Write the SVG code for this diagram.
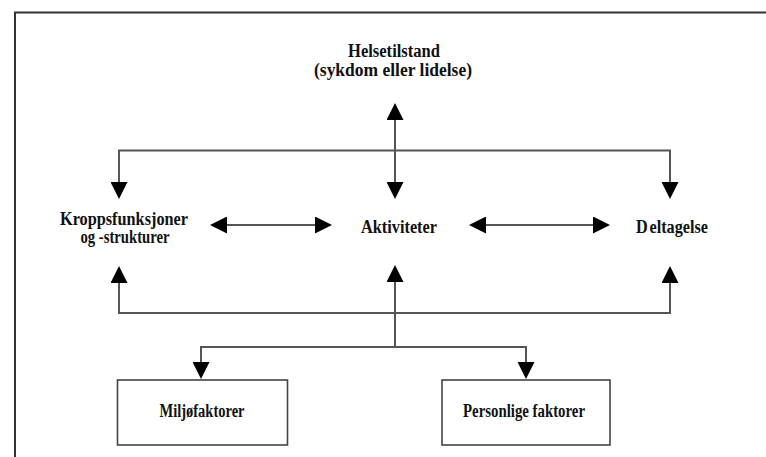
<svg xmlns="http://www.w3.org/2000/svg" width="766" height="457" viewBox="0 0 766 457">
<style>
.t{font-family:'Liberation Serif', Times, serif;font-weight:700;font-size:18px;fill:#111;text-anchor:middle}
.ln{fill:none;stroke:#555;stroke-width:2}
.both{marker-start:url(#ah);marker-end:url(#ah)}
.start{marker-start:url(#ah)}
.box{fill:#fff;stroke:#444;stroke-width:1.6}
.frame{fill:none;stroke:#333;stroke-width:2}
</style>
<defs>
<marker id="ah" viewBox="0 0 17 17" refX="0" refY="8.5" markerWidth="17" markerHeight="17" markerUnits="userSpaceOnUse" orient="auto-start-reverse">
<path d="M0,0 L17,8.5 L0,17 z" fill="#000"/>
</marker>
</defs>
<rect width="766" height="457" fill="#fff"/>
<path class="frame" d="M15,457 V12.5 H766"/>
<g id="connectors">
<path class="ln both" d="M395,120 V182"/>
<path class="ln both" d="M119,182 V150.5 H670 V182"/>
<path class="ln both" d="M119,283 V313 H670 V283"/>
<path class="ln start" d="M395,282 V347"/>
<path class="ln both" d="M201,362 V347 H526 V362"/>
<path class="ln both" d="M227,225 H315"/>
<path class="ln both" d="M486,225 H593"/>
</g>
<g id="helsetilstand">
<text class="t" x="394" y="57" textLength="92" lengthAdjust="spacingAndGlyphs">Helsetilstand</text>
<text class="t" x="393" y="76" textLength="158" lengthAdjust="spacingAndGlyphs">(sykdom eller lidelse)</text>
</g>
<g id="kroppsfunksjoner">
<text class="t" x="124" y="225" textLength="128" lengthAdjust="spacingAndGlyphs">Kroppsfunksjoner</text>
<text class="t" x="125" y="243" textLength="89" lengthAdjust="spacingAndGlyphs">og -strukturer</text>
</g>
<g id="aktiviteter">
<text class="t" x="399" y="233" textLength="76" lengthAdjust="spacingAndGlyphs">Aktiviteter</text>
</g>
<g id="deltagelse">
<text class="t" x="672" y="233" textLength="72" lengthAdjust="spacingAndGlyphs">D<tspan dx="2">eltagelse</tspan></text>
</g>
<g id="miljofaktorer">
<rect class="box" x="117.5" y="380" width="170" height="65"/>
<text class="t" x="202" y="417" textLength="85" lengthAdjust="spacingAndGlyphs">Miljøfaktorer</text>
</g>
<g id="personlige">
<rect class="box" x="442" y="380" width="168" height="65"/>
<text class="t" x="524" y="417" textLength="122" lengthAdjust="spacingAndGlyphs">Personlige faktorer</text>
</g>
</svg>
